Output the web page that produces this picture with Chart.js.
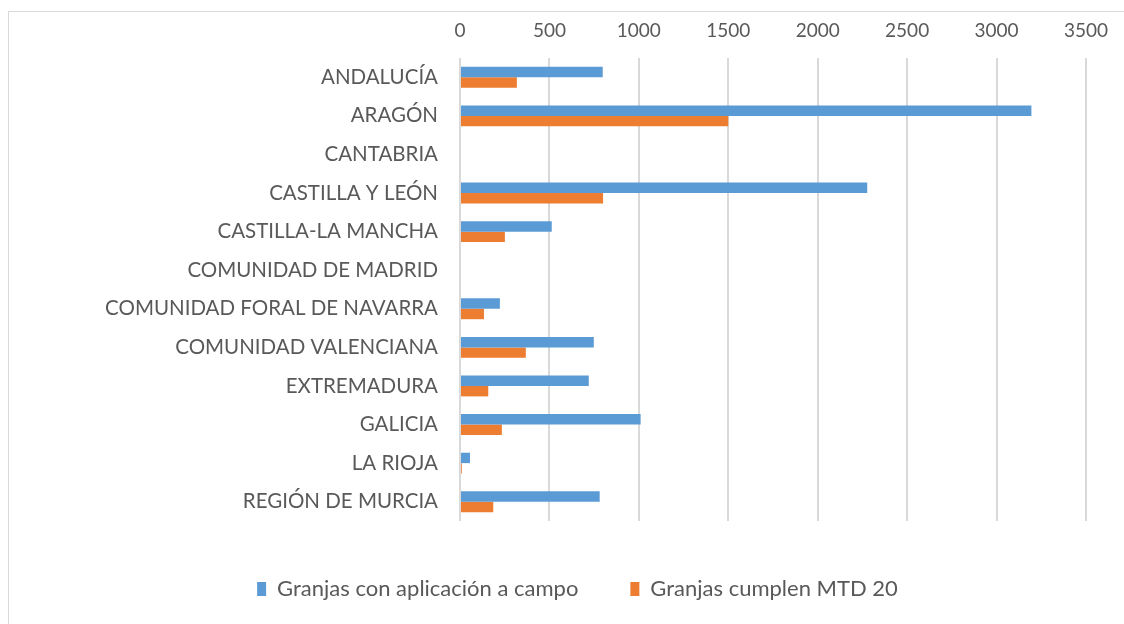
<!DOCTYPE html>
<html>
<head>
<meta charset="utf-8">
<script src="https://cdn.jsdelivr.net/npm/chart.js@4.4.0/dist/chart.umd.min.js"></script>
<style>
  body { margin: 0; background: #fff; }
  #frame { position: absolute; left: 8px; top: 11px; width: 1200px; height: 700px; border: 1px solid #d9d9d9; }
  #wrap { position: absolute; left: 0; top: 0; width: 1124px; height: 624px; }
</style>
</head>
<body>
<div id="frame"></div>
<div id="wrap"><canvas id="myChart"></canvas></div>
<script>
// regions (categories)
const regiones = [
  "ANDALUCÍA",
  "ARAGÓN",
  "CANTABRIA",
  "CASTILLA Y LEÓN",
  "CASTILLA-LA MANCHA",
  "COMUNIDAD DE MADRID",
  "COMUNIDAD FORAL DE NAVARRA",
  "COMUNIDAD VALENCIANA",
  "EXTREMADURA",
  "GALICIA",
  "LA RIOJA",
  "REGIÓN DE MURCIA",
];

// series values
const granjasCampo = [798, 3195, 0, 2277, 513, 0, 223, 748, 720, 1010, 56, 781];
const granjasMTD20 = [318, 1500, 0, 800, 251, 0, 134, 368, 158, 234, 10, 186];

const serieNombres = ["Granjas con aplicación a campo", "Granjas cumplen MTD 20"];
const xTicks = [0, 500, 1000, 1500, 2000, 2500, 3000, 3500];

const fontFam = "Lato, sans-serif";
const grey = "#595959";

const ctx = document.getElementById("myChart");

new Chart(ctx, {
  type: "bar",
  data: {
    labels: regiones,
    datasets: [
      {
        label: serieNombres[0],
        data: granjasCampo,
        backgroundColor: "#5B9BD5",
        categoryPercentage: 0.54,
        barPercentage: 1.0,
      },
      {
        label: serieNombres[1],
        data: granjasMTD20,
        backgroundColor: "#ED7D31",
        categoryPercentage: 0.54,
        barPercentage: 1.0,
      },
    ],
  },
  options: {
    indexAxis: "y",
    responsive: true,
    maintainAspectRatio: false,
    animation: false,
    layout: {
      // left padding + y axis width = 460, keeps the legend centred like the original
      padding: { left: 68, right: 37, top: 0, bottom: 14 },
    },
    plugins: {
      tooltip: { enabled: false },
      legend: {
        position: "bottom",
        labels: {
          color: grey,
          font: { family: fontFam, size: 22 },
          boxWidth: 9,
          boxHeight: 14,
          padding: 52,
        },
      },
    },
    scales: {
      x: {
        position: "top",
        min: 0,
        max: 3500,
        afterBuildTicks: (axis) => {
          axis.ticks = xTicks.map((v) => ({ value: v }));
        },
        ticks: {
          color: grey,
          font: { family: fontFam, size: 19 },
          padding: 16,
          maxRotation: 0,
          callback: (v) => String(v),
        },
        grid: {
          color: "#d9d9d9",
          lineWidth: 2,
          drawTicks: false,
        },
        border: { display: false },
        afterFit: (scale) => {
          scale.height = 58;
        },
      },
      // empty spacer between plot and legend
      gap: {
        axis: "x",
        position: "bottom",
        display: true,
        ticks: { display: false },
        grid: { display: false, drawTicks: false },
        border: { display: false },
        afterFit: (scale) => {
          scale.height = 5;
        },
      },
      y: {
        ticks: {
          color: grey,
          font: { family: fontFam, size: 20.5 },
          padding: 22,
          autoSkip: false,
        },
        grid: { display: false, drawTicks: false },
        border: { display: false },
        afterFit: (scale) => {
          scale.width = 392;
        },
      },
    },
  },
});
</script>
</body>
</html>
